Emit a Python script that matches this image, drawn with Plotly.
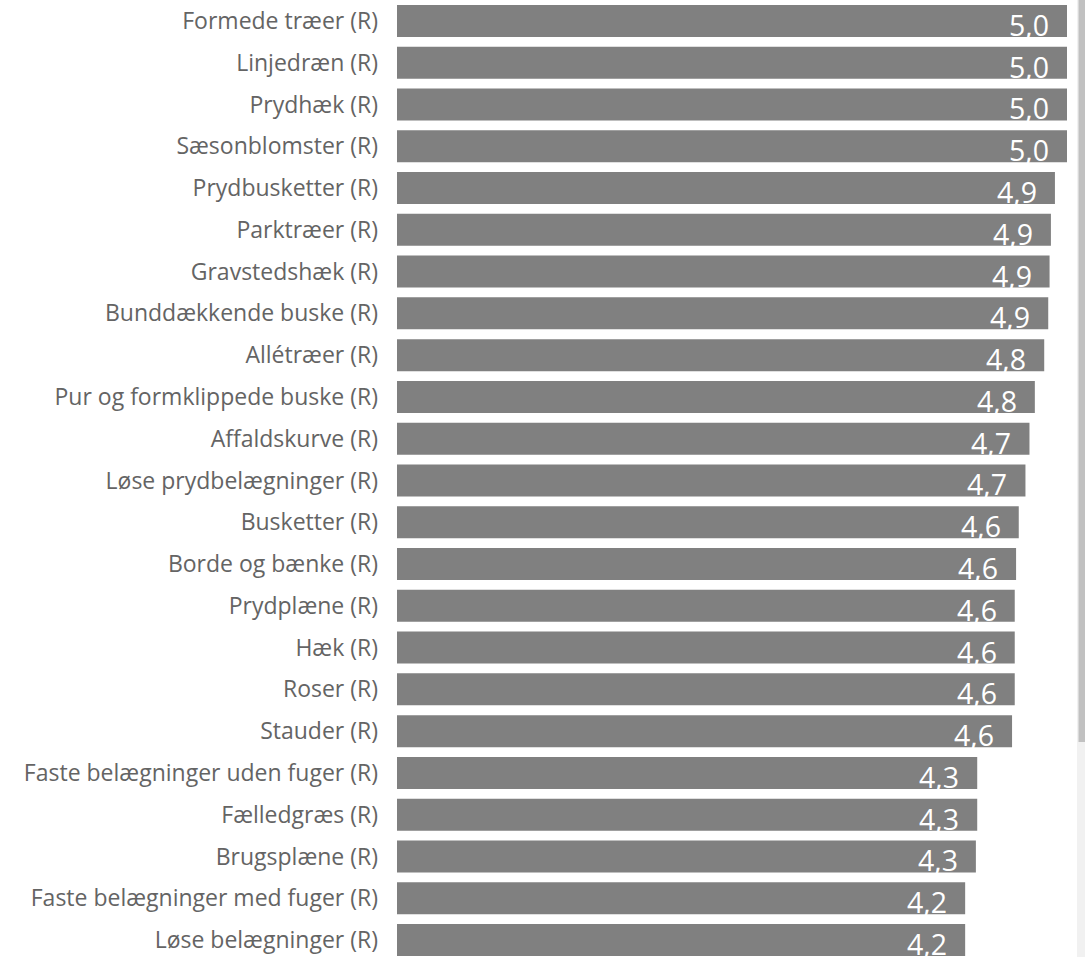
import plotly.graph_objects as go

categories = [
    "Formede træer (R)", "Linjedræn (R)", "Prydhæk (R)", "Sæsonblomster (R)",
    "Prydbusketter (R)", "Parktræer (R)", "Gravstedshæk (R)", "Bunddækkende buske (R)",
    "Allétræer (R)", "Pur og formklippede buske (R)", "Affaldskurve (R)",
    "Løse prydbelægninger (R)", "Busketter (R)", "Borde og bænke (R)", "Prydplæne (R)",
    "Hæk (R)", "Roser (R)", "Stauder (R)", "Faste belægninger uden fuger (R)",
    "Fælledgræs (R)", "Brugsplæne (R)", "Faste belægninger med fuger (R)",
    "Løse belægninger (R)",
]
values = [5.0, 5.0, 5.0, 5.0, 4.91, 4.88, 4.87, 4.86, 4.83, 4.76, 4.72, 4.69,
          4.64, 4.62, 4.61, 4.61, 4.61, 4.59, 4.33, 4.33, 4.32, 4.24, 4.24]
value_labels = ["5,0", "5,0", "5,0", "5,0", "4,9", "4,9", "4,9", "4,9", "4,8", "4,8",
                "4,7", "4,7", "4,6", "4,6", "4,6", "4,6", "4,6", "4,6", "4,3", "4,3",
                "4,3", "4,2", "4,2"]

FONT = "Segoe UI, Open Sans, sans-serif"

W, H = 1085, 957
ML, MR = 397, 18
ROW = 41.78  # pixels per category row

fig = go.Figure(go.Bar(
    x=values, y=categories, orientation="h",
    marker=dict(color="#808080", line=dict(width=0)),
    hoverinfo="skip",
))

for c, v, t in zip(categories, values, value_labels):
    fig.add_annotation(x=v, y=c, text=t, showarrow=False, xanchor="right",
                       yanchor="middle", xshift=-16, yshift=-4,
                       font=dict(family=FONT, size=28.5, color="white"))

# page scrollbar seen at the right edge of the reference (decoration)
pw = W - ML - MR
def px(x):
    return (x - ML) / pw
fig.add_shape(type="rect", xref="paper", yref="paper", x0=px(1077), x1=px(1085),
              y0=0, y1=1, fillcolor="#f1f1f1", line=dict(width=0), layer="above")
fig.add_shape(type="rect", xref="paper", yref="paper", x0=px(1078.5), x1=px(1085),
              y0=1 - 742 / H, y1=1, fillcolor="#c1c1c1", line=dict(width=0), layer="above")

fig.update_layout(
    width=W, height=H,
    margin=dict(l=ML, r=MR, t=0, b=0),
    plot_bgcolor="white", paper_bgcolor="white",
    bargap=0.234, showlegend=False,
    xaxis=dict(range=[0, 5], visible=False, fixedrange=True),
    yaxis=dict(range=[-0.5 + H / ROW, -0.5], showgrid=False, zeroline=False,
               showline=False, ticks="", ticklabelstandoff=18, fixedrange=True,
               tickfont=dict(family=FONT, size=23, color="#646464")),
)

fig.write_html("out.html", config={"displayModeBar": False},
               post_script="document.body.style.margin='0';")
